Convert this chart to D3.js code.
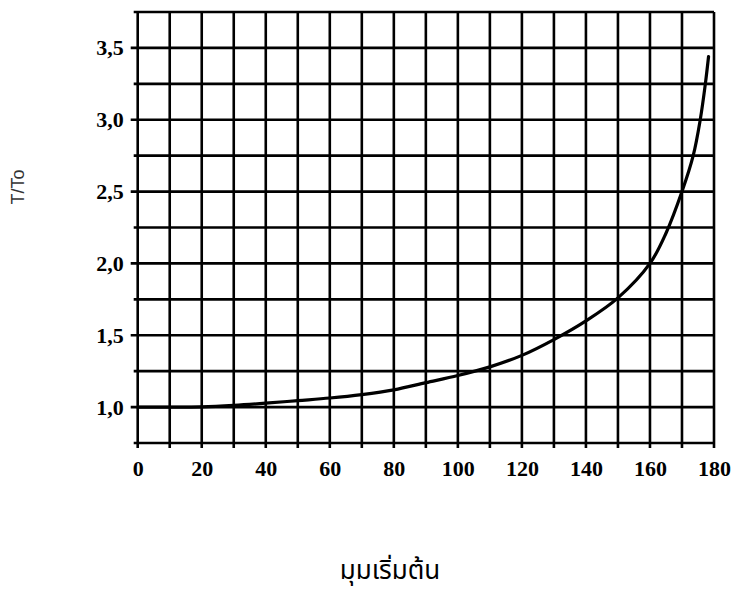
<!DOCTYPE html>
<html lang="th">
<head>
<meta charset="UTF-8">
<title>T/To</title>
<script src="https://d3js.org/d3.v7.min.js"></script>
<style>
  body { margin: 0; background: #fff; }
  .tick text { font-family: "Liberation Serif", "Times New Roman", serif; font-weight: bold; font-size: 22px; fill: #000; }
  .grid line { stroke: #000; stroke-width: 2.6px; }
</style>
</head>
<body>
<svg width="733" height="594"></svg>
<script>
// angle (degrees) and period ratio
const angle = [0, 10, 20, 30, 40, 50, 60, 70, 80, 90, 100, 110, 120, 130, 140, 150, 160, 165, 170, 173.5, 175.7, 177.3, 178.3];
const ratio = [1.0, 1.0, 1.002, 1.012, 1.027, 1.045, 1.063, 1.087, 1.12, 1.17, 1.22, 1.28, 1.36, 1.47, 1.6, 1.76, 2.0, 2.21, 2.5, 2.75, 3.0, 3.25, 3.44];
const xLabels = [0, 20, 40, 60, 80, 100, 120, 140, 160, 180];
const yLabels = [1.0, 1.5, 2.0, 2.5, 3.0, 3.5];
const xGrid = d3.range(0, 181, 10);
const yGrid = d3.range(0.75, 3.76, 0.25);

const svg = d3.select("svg");
const mLeft = 137.7, mRight = 714, mTop = 12, mBottom = 443;

const x = d3.scaleLinear().domain([0, 180]).range([mLeft, mRight]);
const y = d3.scaleLinear().domain([0.75, 3.75]).range([mBottom, mTop]);

// vertical grid, sticking out a little under the frame
svg.append("g").attr("class", "grid")
  .selectAll("line").data(xGrid).enter().append("line")
  .attr("x1", d => x(d)).attr("x2", d => x(d))
  .attr("y1", mTop).attr("y2", mBottom + 5);

// horizontal grid, sticking out a little left of the frame
svg.append("g").attr("class", "grid")
  .selectAll("line").data(yGrid).enter().append("line")
  .attr("x1", d => x(0) - (yLabels.some(v => Math.abs(v - d) < 1e-6) ? 7 : 4))
  .attr("x2", mRight)
  .attr("y1", d => y(d)).attr("y2", d => y(d));

// tick labels
const xAxis = svg.append("g")
  .attr("transform", `translate(0,${mBottom})`)
  .call(d3.axisBottom(x).tickValues(xLabels).tickSize(0).tickPadding(17));
xAxis.select(".domain").remove();

const yAxis = svg.append("g")
  .attr("transform", `translate(${mLeft},0)`)
  .call(d3.axisLeft(y).tickValues(yLabels).tickSize(0).tickPadding(14)
    .tickFormat(d => d.toFixed(1).replace(".", ",")));
yAxis.select(".domain").remove();

// curve
const line = d3.line()
  .x((d, i) => x(angle[i]))
  .y(d => y(d))
  .curve(d3.curveCatmullRom.alpha(0.5));

svg.append("path")
  .datum(ratio)
  .attr("d", line)
  .attr("fill", "none")
  .attr("stroke", "#000")
  .attr("stroke-width", 3.2)
  .attr("stroke-linecap", "round");

// axis titles
svg.append("text")
  .attr("transform", "translate(24,187) rotate(-90)")
  .attr("text-anchor", "middle")
  .style("font-family", "Arial, 'Liberation Sans', sans-serif")
  .style("font-size", "18px")
  .style("fill", "#333")
  .text("T/To");

svg.append("text")
  .attr("x", 390).attr("y", 579)
  .attr("text-anchor", "middle")
  .style("font-family", "'Noto Sans Thai', 'Noto Sans', sans-serif")
  .style("font-size", "26px")
  .style("fill", "#000")
  .text("มุมเริ่มต้น");
</script>
</body>
</html>
